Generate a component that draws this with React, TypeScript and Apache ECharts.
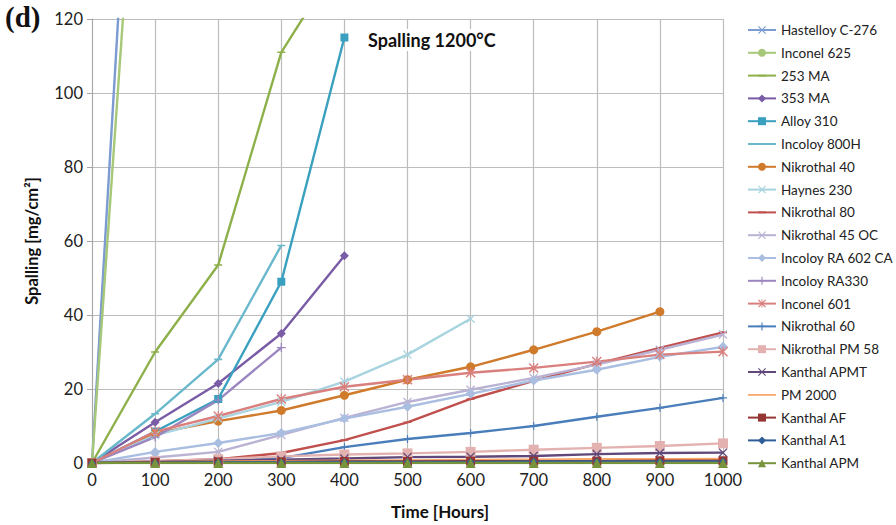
import React, { useEffect, useRef } from "react";
import * as echarts from "echarts";

const hours = [0, 100, 200, 300, 400, 500, 600, 700, 800, 900, 1000];

const hastelloyC276 = [0, 290];
const inconel625 = [0, 245];
const ma253 = [0, 30, 53.5, 111, 138];
const ma353 = [0, 11, 21.5, 35, 56];
const alloy310 = [0, 8.5, 17.3, 49, 115];
const incoloy800H = [0, 13.3, 28, 58.8];
const nikrothal40 = [0, 8, 11.3, 14.2, 18.3, 22.5, 26, 30.6, 35.5, 40.9];
const haynes230 = [0, 7.5, 12, 16.5, 22, 29.3, 39];
const nikrothal80 = [0, 0.5, 1, 2.7, 6.2, 11, 17.3, 22.2, 26.8, 31.1, 35.3];
const nikrothal45OC = [0, 1.5, 3, 7.6, 12.2, 16.5, 19.8, 23, 26.6, 30.6, 34.7];
const incoloyRA602CA = [0, 3, 5.4, 8.1, 12, 15.2, 18.7, 22.3, 25.2, 28.7, 31.4];
const incoloyRA330 = [0, 7, 17, 31.2];
const inconel601 = [0, 8.5, 12.7, 17.3, 20.6, 22.5, 24.4, 25.7, 27.4, 29.3, 30.1];
const nikrothal60 = [0, 0.3, 0.6, 1.3, 4.3, 6.5, 8.1, 10, 12.5, 14.9, 17.6];
const nikrothalPM58 = [0, 0.5, 1, 1.8, 2.3, 2.6, 3, 3.6, 4.1, 4.6, 5.3];
const kanthalAPMT = [0, 0.3, 0.6, 0.9, 1.2, 1.6, 1.7, 1.9, 2.4, 2.7, 2.8];
const pm2000 = [0, 0.2, 0.4, 0.5, 0.6, 0.7, 0.8, 0.9, 1, 1, 1.1];
const kanthalAF = [0, 0.2, 0.3, 0.3, 0.4, 0.4, 0.5, 0.5, 0.5, 0.6, 0.6];
const kanthalA1 = [0, 0.1, 0.2, 0.2, 0.3, 0.3, 0.3, 0.4, 0.4, 0.4, 0.4];
const kanthalAPM = [0, 0, 0, 0, 0, 0, 0, 0, 0, 0, 0];

const yTicks = [0, 20, 40, 60, 80, 100, 120];

const X_SYM = "path://M0,1L1,0L5,4L9,0L10,1L6,5L10,9L9,10L5,6L1,10L0,9L4,5Z";
const PLUS_SYM = "path://M4.3,0H5.7V4.3H10V5.7H5.7V10H4.3V5.7H0V4.3H4.3Z";
const STAR_SYM =
  "path://M0,1L1,0L5,4L9,0L10,1L6,5L10,9L9,10L5,6L1,10L0,9L4,5Z M4.4,0H5.6V10H4.4Z";
// dash marker inside a square box (tiny corner points keep the box square)
const DASH_SYM = "path://M0,0L0.01,0L0,0.01Z M0,4H10V6H0Z M10,10L9.99,10L10,9.99Z";
const LINE_ICON = "path://M0,0L0.01,0L0,0.01Z M0,4.1H30V5.9H0Z M30,10L29.99,10L30,9.99Z";

type Def = {
  name: string;
  data: number[];
  color: string;
  symbol: string;
  size: number | number[];
};

const defs: Def[] = [
  { name: "Hastelloy C-276", data: hastelloyC276, color: "#7b9bd1", symbol: X_SYM, size: 7 },
  { name: "Inconel 625", data: inconel625, color: "#a6c878", symbol: "circle", size: 7 },
  { name: "253 MA", data: ma253, color: "#8db04a", symbol: DASH_SYM, size: 8 },
  { name: "353 MA", data: ma353, color: "#7a5ba6", symbol: "diamond", size: 9 },
  { name: "Alloy 310", data: alloy310, color: "#3aa0bf", symbol: "rect", size: 8 },
  { name: "Incoloy 800H", data: incoloy800H, color: "#6ab8cc", symbol: DASH_SYM, size: 8 },
  { name: "Nikrothal 40", data: nikrothal40, color: "#d07a2c", symbol: "circle", size: 9 },
  { name: "Haynes 230", data: haynes230, color: "#a8d4df", symbol: X_SYM, size: 9 },
  { name: "Nikrothal 80", data: nikrothal80, color: "#c0504d", symbol: DASH_SYM, size: 8 },
  { name: "Nikrothal 45 OC", data: nikrothal45OC, color: "#bab2d3", symbol: X_SYM, size: 9 },
  { name: "Incoloy RA 602 CA", data: incoloyRA602CA, color: "#a9bee0", symbol: "diamond", size: 10 },
  { name: "Incoloy RA330", data: incoloyRA330, color: "#9c86c0", symbol: PLUS_SYM, size: 9 },
  { name: "Inconel 601", data: inconel601, color: "#d9807e", symbol: STAR_SYM, size: 10 },
  { name: "Nikrothal 60", data: nikrothal60, color: "#4a7ebb", symbol: PLUS_SYM, size: 8 },
  { name: "Nikrothal PM 58", data: nikrothalPM58, color: "#e3b2b0", symbol: "rect", size: 10 },
  { name: "Kanthal APMT", data: kanthalAPMT, color: "#60497a", symbol: X_SYM, size: 9 },
  { name: "PM 2000", data: pm2000, color: "#f9a66a", symbol: "none", size: 0 },
  { name: "Kanthal AF", data: kanthalAF, color: "#963634", symbol: "rect", size: 9 },
  { name: "Kanthal A1", data: kanthalA1, color: "#2f5f98", symbol: "diamond", size: 8 },
  { name: "Kanthal APM", data: kanthalAPM, color: "#77933c", symbol: "triangle", size: 10 },
];

const FONT = "Lato";

export default function App() {
  const ref = useRef<HTMLDivElement>(null);
  useEffect(() => {
    if (!ref.current) return;
    const chart = echarts.init(ref.current, undefined, { renderer: "svg" });
    const series = defs.map((d) => ({
      name: d.name,
      type: "line",
      data: d.data.map((v, i) => [hours[i], v]),
      symbol: d.symbol,
      symbolSize: d.size,
      showSymbol: d.symbol !== "none",
      lineStyle: { color: d.color, width: 2.4 },
      itemStyle: { color: d.color, borderColor: d.color, borderWidth: 0 },
      clip: true,
      z: 3,
    }));
    chart.setOption({
      animation: false,
      backgroundColor: "#ffffff",
      textStyle: { fontFamily: FONT },
      title: {
        text: "Spalling 1200°C",
        left: 362,
        top: 29,
        backgroundColor: "#ffffff",
        padding: [2, 6],
        textStyle: { fontFamily: FONT, fontWeight: "bold", fontSize: 18, color: "#111" },
      },
      legend: {
        orient: "vertical",
        left: 742,
        top: 18,
        itemWidth: 28,
        itemHeight: 10,
        itemGap: 8.8,
        textStyle: {
          fontFamily: FONT,
          fontSize: 13.5,
          color: "#222",
          lineHeight: 14,
        },
        data: defs.map((d) =>
          d.symbol === "none"
            ? { name: d.name, icon: LINE_ICON, itemStyle: { color: d.color } }
            : { name: d.name }
        ),
      },
      grid: { left: 92, right: 173, top: 19, bottom: 62, containLabel: false },
      xAxis: {
        type: "value",
        min: 0,
        max: 1000,
        interval: 100,
        axisLine: { show: true, lineStyle: { color: "#a6a6a6", width: 1 } },
        axisTick: { show: true, length: 4, lineStyle: { color: "#a6a6a6" } },
        axisLabel: {
          fontFamily: FONT,
          fontSize: 16.5,
          color: "#222",
          margin: 8,
          formatter: (v: number) => String(v),
        },
        splitLine: { show: true, lineStyle: { color: "#bcbcbc", width: 1.2 } },
      },
      yAxis: {
        type: "value",
        min: yTicks[0],
        max: yTicks[yTicks.length - 1],
        interval: 20,
        name: "Spalling [mg/cm²]",
        nameLocation: "middle",
        nameGap: 52,
        nameTextStyle: { fontFamily: FONT, fontWeight: "bold", fontSize: 16.5, color: "#111" },
        axisLine: { show: true, lineStyle: { color: "#a6a6a6", width: 1 } },
        axisTick: { show: true, length: 5, lineStyle: { color: "#a6a6a6" } },
        axisLabel: {
          fontFamily: FONT,
          fontSize: 16.5,
          color: "#222",
          margin: 9,
          formatter: (v: number) => String(v),
        },
        splitLine: { show: true, lineStyle: { color: "#bcbcbc", width: 1.2 } },
      },
      graphic: [
        {
          type: "text",
          left: 5,
          top: 2,
          style: {
            text: "(d)",
            font: "bold 29px 'Liberation Serif', 'DejaVu Serif', serif",
            fill: "#111",
          },
        },
        {
          type: "text",
          x: 440,
          y: 511,
          style: {
            text: "Time [Hours]",
            font: `bold 17px ${FONT}`,
            fill: "#111",
            align: "center",
            verticalAlign: "middle",
          },
        },
      ],
      series,
    });
    return () => chart.dispose();
  }, []);
  return (
    <div
      ref={ref}
      style={{ position: "absolute", left: 0, top: 0, width: 896, height: 525 }}
    />
  );
}
